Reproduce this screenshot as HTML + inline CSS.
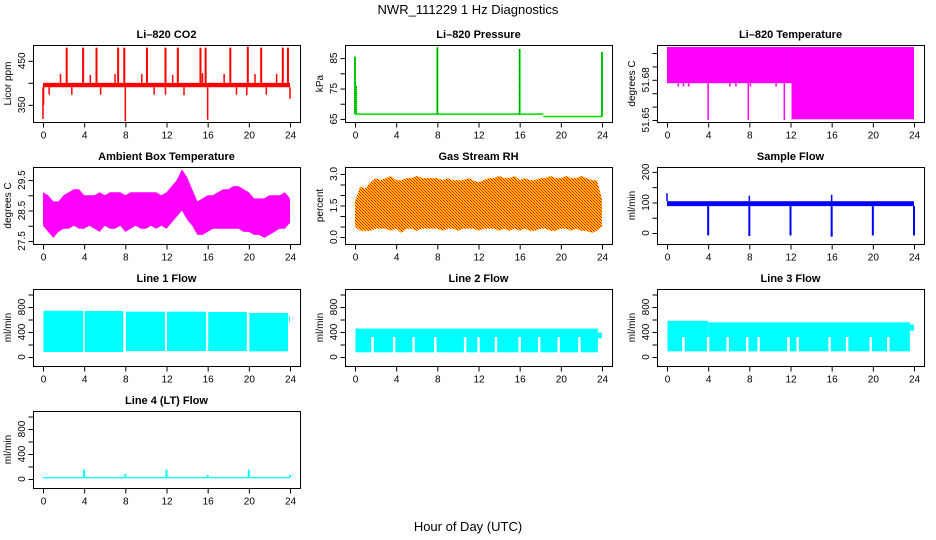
<!DOCTYPE html>
<html><head><meta charset="utf-8"><style>
html,body{margin:0;padding:0;background:#fff}
svg{display:block;font-family:"Liberation Sans",Arial,sans-serif}
</style></head><body>
<svg id="c" width="936" height="540" viewBox="0 0 936 540">
<defs>
<pattern id="rhpat" width="3" height="3" patternUnits="userSpaceOnUse">
<rect width="3" height="3" fill="#ffc000"/><rect width="1" height="1" fill="#ff0000"/><rect x="1" y="1" width="1" height="1" fill="#ff3000"/><rect x="2" y="2" width="1" height="1" fill="#ff0000"/>
</pattern>
</defs>
<text x="468" y="14" text-anchor="middle" font-size="13">NWR_111229  1 Hz Diagnostics</text>
<text x="468" y="531" text-anchor="middle" font-size="13">Hour of Day (UTC)</text>
</svg>
<script>
// ---- data ----
const xTicks = [0,4,8,12,16,20,24];
const halfHours = [0,0.5,1,1.5,2,2.5,3,3.5,4,4.5,5,5.5,6,6.5,7,7.5,8,8.5,9,9.5,10,10.5,11,11.5,12,12.5,13,13.5,14,14.5,15,15.5,16,16.5,17,17.5,18,18.5,19,19.5,20,20.5,21,21.5,22,22.5,23,23.5,24];
// CO2
const co2Base = [390,400];
const co2SpikeHours = [2.3,3.9,5.2,7.3,7.9,10.1,11.9,13.1,15.3,15.8,18.2,19.9,21.2,23.3,23.8];
const co2SpikeVals = [480,480,480,480,480,480,480,480,480,480,480,482,480,480,480];
const co2SmallHours = [1.7,4.6,7.0,9.6,12.6,15.5,17.6,20.6,22.7];
const co2SmallVals = [420,418,420,420,418,422,420,420,420];
const co2DipHours = [0.6,2.8,5.6,10.8,11.9,13.7,18.8,19.8,21.7,0.05,24,8,0,16];
const co2DipVals = [373,373,373,373,373,372,373,372,373,350,364,313,318,316];
// Pressure
const presSegStart = [0,18.3];
const presSegEnd = [18.3,24];
const presSegVal = [66.6,65.8];
const presSpikeHours = [0,0.1,8,16,24];
const presSpikeVals = [85.5,76,88.5,88,87];
// Li-820 temperature
const tempSegStart = [0,12.1];
const tempSegEnd = [12.1,24];
const tempSegLow = [51.6775,51.6505];
const tempSegHigh = [51.7045,51.7045];
const tempDipHours = [4.0,7.9,11.4,1.1,1.6,2.1,6.1,6.7,8.1,10.6];
const tempDipVals = [51.65,51.65,51.65,51.675,51.675,51.675,51.675,51.675,51.675,51.675];
// Ambient box temperature
const ambUpper = [29.1,29.0,28.8,28.8,29.0,29.1,29.2,29.2,29.0,29.0,29.0,29.1,29.0,29.1,29.1,29.1,29.0,29.1,29.1,29.1,29.1,29.1,29.1,29.0,29.1,29.3,29.5,29.85,29.6,29.2,28.8,28.9,29.0,29.0,29.1,29.2,29.2,29.3,29.3,29.2,29.1,28.9,28.9,28.9,29.0,29.0,29.0,29.1,28.9];
const ambLower = [28.0,27.8,27.6,27.8,27.9,27.9,28.0,27.9,27.9,28.0,27.9,27.8,28.0,27.9,27.9,28.0,27.8,27.9,28.0,27.9,27.9,28.0,27.9,28.0,27.9,28.1,28.3,28.5,28.2,28.0,27.7,27.7,27.8,27.9,27.9,27.9,27.9,27.9,27.9,27.8,27.8,27.7,27.7,27.6,27.7,27.8,27.9,27.9,28.1];
// Gas stream RH
const rhUpper = [1.7,2.4,2.3,2.6,2.8,2.7,2.8,2.9,2.7,2.7,2.8,2.8,2.9,2.8,2.8,2.8,2.8,2.7,2.8,2.7,2.7,2.7,2.8,2.7,2.6,2.7,2.8,2.8,2.9,2.8,2.8,2.9,2.7,2.8,2.7,2.7,2.8,2.8,2.9,2.8,2.8,2.9,2.8,2.8,2.9,2.8,2.7,2.7,1.8];
const rhLower = [0.5,0.3,0.3,0.3,0.4,0.4,0.4,0.3,0.4,0.2,0.4,0.4,0.3,0.4,0.4,0.4,0.4,0.3,0.4,0.4,0.3,0.4,0.4,0.4,0.3,0.4,0.4,0.4,0.3,0.4,0.3,0.4,0.3,0.4,0.3,0.3,0.4,0.4,0.3,0.3,0.4,0.4,0.3,0.4,0.3,0.3,0.2,0.3,0.5];
// Sample flow
const sfBand = [88,104];
const sfDipHours = [4,8,12,16,20,24];
const sfDipVals = [-8,-10,-8,-12,-8,-8];
const sfSpikeHours = [0,8,16];
const sfSpikeVals = [130,122,125];
// Line flows
const l1SegStart = [0.05,4.05,8.05,12.05,16.05,20.05,23.9];
const l1SegEnd = [3.9,7.8,11.85,15.85,19.8,23.8,24];
const l1SegTop = [740,735,725,725,720,705,650];
const l1SegBottom = [80,80,95,95,95,90,560];
const l2SegStart = [0.05,23.6];
const l2SegEnd = [23.6,24];
const l2SegTop = [455,390];
const l2SegBottom = [75,300];
const l2GapHours = [1.7,3.8,5.7,7.8,10.7,12.0,13.7,16.0,17.9,19.8,21.8];
const l3SegStart = [0.05,4.0,23.6];
const l3SegEnd = [4.0,23.6,24];
const l3SegTop = [580,555,520];
const l3SegBottom = [90,90,420];
const l3GapHours = [1.6,4.0,5.9,7.8,8.9,11.8,12.7,15.8,17.5,19.8,21.5];
const l4Base = [10,30];
const l4SpikeHours = [4,8,12,16,20,24];
const l4SpikeVals = [150,80,150,60,150,60];

// ---- layout ----
const svg = document.getElementById('c');
const NS = 'http://www.w3.org/2000/svg';
const colLeft = [33,345,657], rowTop = [45,167,289,411], boxW = 267, boxH = 77;
function el(tag, attrs, parent){
  const e = document.createElementNS(NS, tag);
  for (const k in attrs) e.setAttribute(k, attrs[k]);
  (parent||svg).appendChild(e);
  return e;
}
function panel(name, title, ylab, col, row, ylo, yhi, yTicks, yLabels){
  const L = colLeft[col], T = rowTop[row];
  const g = el('g', {});
  
  
  const sx = h => L + 10 + h * (247/24);
  const sy = v => T + boxH - (v - ylo) / (yhi - ylo) * boxH;
  const plot = el('g', {}, g);
  
  
  const axes = el('g', {}, g);
  const box = el('rect', {x:L+0.5, y:T+0.5, width:boxW, height:boxH, fill:'none', stroke:'#000', 'stroke-width':1}, axes);
  
  
  const t = el('text', {x:L+boxW/2, y:T-7, 'text-anchor':'middle', 'font-size':11, 'font-weight':'bold'}, axes);
  t.textContent = title;
  
  
  const xb = T + boxH + 0.5;
  el('line', {x1:sx(0), x2:sx(24), y1:xb, y2:xb, stroke:'#000'}, axes);
  xTicks.forEach(v => {
    el('line', {x1:sx(v)+0.5, x2:sx(v)+0.5, y1:xb, y2:xb+5, stroke:'#000'}, axes);
    const lb = el('text', {x:sx(v)+0.5, y:xb+16, 'text-anchor':'middle', 'font-size':10}, axes);
    lb.textContent = v;
    
    
  });
  const yl = L + 0.5;
  el('line', {x1:yl, x2:yl, y1:sy(yTicks[0]), y2:sy(yTicks[yTicks.length-1]), stroke:'#000'}, axes);
  yTicks.forEach(v => {
    el('line', {x1:yl-5, x2:yl, y1:sy(v)+0.5, y2:sy(v)+0.5, stroke:'#000'}, axes);
  });
  yLabels.forEach(v => {
    const y = sy(v);
    const lb = el('text', {x:0, y:0, 'text-anchor':'middle', 'font-size':10, transform:`translate(${L-8},${y}) rotate(-90)`}, axes);
    lb.textContent = (typeof v === 'number' && title.indexOf('RH')>=0) ? v.toFixed(1) : v;
    
    
  });
  const yt = el('text', {x:0, y:0, 'text-anchor':'middle', 'font-size':10, transform:`translate(${L-22},${T+boxH/2}) rotate(-90)`}, axes);
  yt.textContent = ylab;
  
  
  return {sx, sy, plot};
}
function vline(p, h, v1, v2, color, w){
  return el('line', {x1:p.sx(h), x2:p.sx(h), y1:p.sy(v1), y2:p.sy(v2), stroke:color, 'stroke-width':w||1.5}, p.plot);
}
function rect(p, h1, h2, v1, v2, color){
  const x1 = p.sx(h1), x2 = p.sx(h2), y1 = p.sy(v2), y2 = p.sy(v1);
  return el('rect', {x:x1, y:y1, width:Math.max(1,x2-x1), height:Math.max(1,y2-y1), fill:color}, p.plot);
}
function band(p, xs, up, lo, fill){
  let d = '';
  xs.forEach((h,i) => { d += (i?'L':'M') + p.sx(h) + ' ' + p.sy(up[i]); });
  for (let i = xs.length-1; i >= 0; i--) d += 'L' + p.sx(xs[i]) + ' ' + p.sy(lo[i]);
  return el('path', {d:d+'Z', fill:fill}, p.plot);
}

{
  const p = panel('co2-panel','Li\u2013820 CO2','Licor ppm',0,0,311,486,[350,400,450],[350,450]);
  co2SpikeHours.forEach((h,i)=>{ const m = vline(p,h,co2Base[1],co2SpikeVals[i],'#ff0000',2);   });
  co2SmallHours.forEach((h,i)=>{ const m = vline(p,h,co2Base[1],co2SmallVals[i],'#ff0000',1.5);   });
  co2DipHours.forEach((h,i)=>{ const m = vline(p,h,co2Base[0],co2DipVals[i],'#ff0000',1.5);   });
  const b = rect(p,0,24,co2Base[0],co2Base[1],'#ff0000');
   
}
{
  const p = panel('pressure-panel','Li\u2013820 Pressure','kPa',1,0,64.0,89.3,[65,70,75,80,85],[65,75,85]);
  presSegStart.forEach((s,i)=>{ const m = rect(p,s,presSegEnd[i],presSegVal[i]-0.25,presSegVal[i]+0.25,'#00dd00');   });
  presSpikeHours.forEach((h,i)=>{ const m = vline(p,h,presSegVal[h>18.3?1:0],presSpikeVals[i],'#00ee00',2);  
    const d = vline(p,h,presSegVal[h>18.3?1:0],presSpikeVals[i],'#000',0.6); d.setAttribute('stroke-dasharray','1 1');   });
}
{
  const p = panel('li820-temperature-panel','Li\u2013820 Temperature','degrees C',2,0,51.6485,51.706,[51.65,51.66,51.67,51.68,51.69,51.70],[51.65,51.68]);
  tempSegStart.forEach((s,i)=>{ const m = rect(p,s,tempSegEnd[i],tempSegLow[i],tempSegHigh[i],'#ff00ff');   });
  tempDipHours.forEach((h,i)=>{ const m = vline(p,h,tempSegLow[0],tempDipVals[i],'#ff00ff',1.5);   });
}
{
  const p = panel('ambient-temperature-panel','Ambient Box Temperature','degrees C',0,1,27.40,29.93,[27.5,28,28.5,29,29.5],[27.5,28.5,29.5]);
  const b = band(p,halfHours,ambUpper,ambLower,'#ff00ff');
   
}
{
  const p = panel('gas-rh-panel','Gas Stream RH','percent',1,1,-0.33,3.33,[0,0.5,1,1.5,2,2.5,3],[0,1.5,3]);
  const b = band(p,halfHours,rhUpper,rhLower,'url(#rhpat)');
   
}
{
  const p = panel('sample-flow-panel','Sample Flow','ml/min',2,1,-36,216,[0,50,100,150,200],[0,100,200]);
  const b = rect(p,0,24,sfBand[0],sfBand[1],'#0000ff');
   
  sfDipHours.forEach((h,i)=>{ const m = vline(p,h,sfBand[0],sfDipVals[i],'#0000ff',2);   });
  sfSpikeHours.forEach((h,i)=>{ const m = vline(p,h,sfBand[1],sfSpikeVals[i],'#0000ff',1.5);   });
}
const flowTicks = [0,200,400,600,800,1000], flowLabels = [0,400,800];
function flowPanel(name,title,col,row,st,en,top,bot,gaps){
  const p = panel(name,title,'ml/min',col,row,-144,1088,flowTicks,flowLabels);
  st.forEach((s,i)=>{ const m = rect(p,s,en[i],bot[i],top[i],'#00ffff');   });
  (gaps||[]).forEach(h=>{ const m = vline(p,h,bot[0]-5,320,'#ffffff',2.5);   });
  return p;
}
flowPanel('line1-flow-panel','Line 1 Flow',0,2,l1SegStart,l1SegEnd,l1SegTop,l1SegBottom,[]);
flowPanel('line2-flow-panel','Line 2 Flow',1,2,l2SegStart,l2SegEnd,l2SegTop,l2SegBottom,l2GapHours);
flowPanel('line3-flow-panel','Line 3 Flow',2,2,l3SegStart,l3SegEnd,l3SegTop,l3SegBottom,l3GapHours);
{
  const p = panel('line4-flow-panel','Line 4 (LT) Flow','ml/min',0,3,-144,1088,flowTicks,flowLabels);
  const b = rect(p,0,24,l4Base[0],l4Base[1],'#00ffff');
   
  l4SpikeHours.forEach((h,i)=>{ const m = vline(p,h,l4Base[1],l4SpikeVals[i],'#00ffff',2);   });
}
</script>
</body></html>
